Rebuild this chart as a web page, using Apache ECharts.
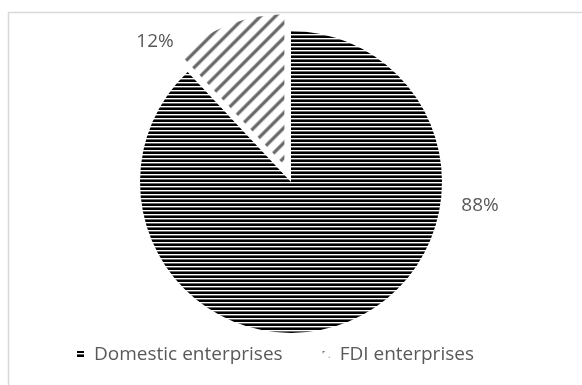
<!DOCTYPE html>
<html><head><meta charset="utf-8">
<script src="https://cdn.jsdelivr.net/npm/echarts@6/dist/echarts.min.js"></script>
<style>html,body{margin:0;padding:0;background:#fff}#c{width:582px;height:385px}</style>
</head><body><div id="c"></div>
<script>
const categories = ['Domestic enterprises', 'FDI enterprises'];
const shares = [88, 12];
const labelTexts = ['88%', '12%'];

function stripes() {
  const c = document.createElement('canvas'); c.width = 8; c.height = 4;
  const g = c.getContext('2d');
  g.fillStyle = '#fff'; g.fillRect(0,0,8,4);
  g.fillStyle = '#000'; g.fillRect(0,0,8,2);
  g.fillStyle = '#666'; g.fillRect(0,3,8,1);
  return c;
}
function diag() {
  const s = 15;
  const c = document.createElement('canvas'); c.width = s; c.height = s;
  const g = c.getContext('2d');
  g.fillStyle = '#fff'; g.fillRect(0,0,s,s);
  g.strokeStyle = '#666'; g.lineWidth = 3.2; g.lineCap = 'square';
  g.beginPath();
  g.moveTo(-2, s+2); g.lineTo(s+2, -2);
  g.moveTo(-2, 2); g.lineTo(2, -2);
  g.moveTo(s-2, s+2); g.lineTo(s+2, s-2);
  g.stroke();
  return c;
}
const fills = [
  {image: stripes(), repeat: 'repeat'},
  {image: diag(), repeat: 'repeat'}
];
const FONT = 'Open Sans';
const labelPos = [[480, 206], [155, 42]];

const chart = echarts.init(document.getElementById('c'), null, {renderer: 'canvas'});
chart.setOption({
  animation: false,
  backgroundColor: '#fff',
  graphic: [
    {type: 'polyline', silent: true, z: 100,
     shape: {points: [[8.5, 400], [8.5, 12.5], [600, 12.5]]},
     style: {fill: null, stroke: '#d9d9d9', lineWidth: 1.5}}
  ].concat(labelTexts.map((t, i) => ({
    type: 'text', silent: true, z: 100,
    x: labelPos[i][0], y: labelPos[i][1],
    style: {text: t, fill: '#595959', font: '19px "' + FONT + '"', align: 'center', verticalAlign: 'middle'}
  }))),
  legend: {
    left: 72, top: 340,
    itemWidth: 7, itemHeight: 7, itemGap: 40,
    icon: 'rect',
    selectedMode: false,
    textStyle: {fontFamily: FONT, fontSize: 19, color: '#595959', padding: [0,0,0,5]},
    data: categories
  },
  series: [{
    type: 'pie',
    center: [291, 182],
    radius: [0, 151],
    startAngle: 90,
    clockwise: true,
    selectedMode: 'single',
    selectedOffset: 18,
    emphasis: {disabled: true},
    labelLine: {show: false},
    label: {show: false},
    itemStyle: {borderWidth: 0},
    data: categories.map((n, i) => ({
      name: n, value: shares[i], selected: i === 1,
      itemStyle: {color: fills[i]}
    }))
  }]
});
</script></body></html>
